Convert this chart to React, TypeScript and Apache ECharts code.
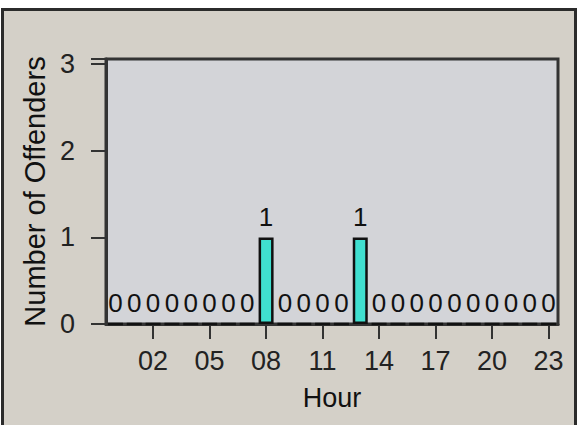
import React, { useEffect, useRef } from "react";
import * as echarts from "echarts";

const hours: string[] = [
  "00", "01", "02", "03", "04", "05", "06", "07", "08", "09", "10", "11",
  "12", "13", "14", "15", "16", "17", "18", "19", "20", "21", "22", "23",
];
const offenders: number[] = [
  0, 0, 0, 0, 0, 0, 0, 0, 1, 0, 0, 0,
  0, 1, 0, 0, 0, 0, 0, 0, 0, 0, 0, 0,
];
const yTicks: number[] = [0, 1, 2, 3];

const FONT = "'Liberation Sans', Arial, sans-serif";

export default function App() {
  const ref = useRef<HTMLDivElement>(null);
  useEffect(() => {
    if (!ref.current) return;
    const chart = echarts.init(ref.current, undefined, { renderer: "svg" });
    chart.setOption({
      animation: false,
      backgroundColor: "#ffffff",
      textStyle: { fontFamily: FONT },
      graphic: [
        {
          type: "rect",
          z: -100,
          shape: { x: 2.5, y: 9.5, width: 573, height: 430 },
          style: { fill: "#d4d0c8", stroke: "#2b2b2b", lineWidth: 3 },
        },
      ],
      grid: {
        left: 106,
        right: 24,
        top: 59,
        bottom: 101,
        show: true,
        backgroundColor: "#d3d4d8",
        borderColor: "#333333",
        borderWidth: 3,
      },
      xAxis: {
        type: "category",
        data: hours,
        name: "Hour",
        nameLocation: "middle",
        nameGap: 60,
        nameTextStyle: { fontSize: 27, color: "#111111", fontFamily: FONT },
        axisLine: { show: true, lineStyle: { color: "#333333", width: 3 } },
        axisTick: {
          show: true,
          alignWithLabel: true,
          length: 15,
          interval: (i: number) => i % 3 === 2,
          lineStyle: { color: "#333333", width: 2 },
        },
        axisLabel: {
          interval: (i: number) => i % 3 === 2,
          margin: 23,
          fontSize: 27,
          color: "#222222",
          fontFamily: FONT,
        },
        splitLine: { show: false },
      },
      yAxis: {
        type: "value",
        min: 0,
        max: 3.06,
        interval: 1,
        name: "Number of Offenders",
        nameLocation: "middle",
        nameGap: 55,
        nameTextStyle: { fontSize: 29, color: "#111111", fontFamily: FONT },
        axisLine: { show: true, lineStyle: { color: "#333333", width: 3 } },
        axisTick: { show: true, length: 15, lineStyle: { color: "#333333", width: 2 } },
        axisLabel: {
          margin: 31,
          fontSize: 27,
          color: "#222222",
          fontFamily: FONT,
          formatter: (v: number) => (yTicks.includes(v) ? String(v) : ""),
        },
        splitLine: { show: false },
      },
      series: [
        {
          type: "bar",
          data: offenders,
          barWidth: 15,
          itemStyle: { color: "#40e0d0", borderColor: "#111111", borderWidth: 2.5 },
          label: {
            show: true,
            position: "top",
            distance: 7,
            fontSize: 26,
            color: "#111111",
            fontFamily: FONT,
          },
        },
      ],
    });
    return () => chart.dispose();
  }, []);
  return (
    <div
      ref={ref}
      style={{ position: "fixed", left: 0, top: 0, width: 582, height: 425 }}
    />
  );
}
